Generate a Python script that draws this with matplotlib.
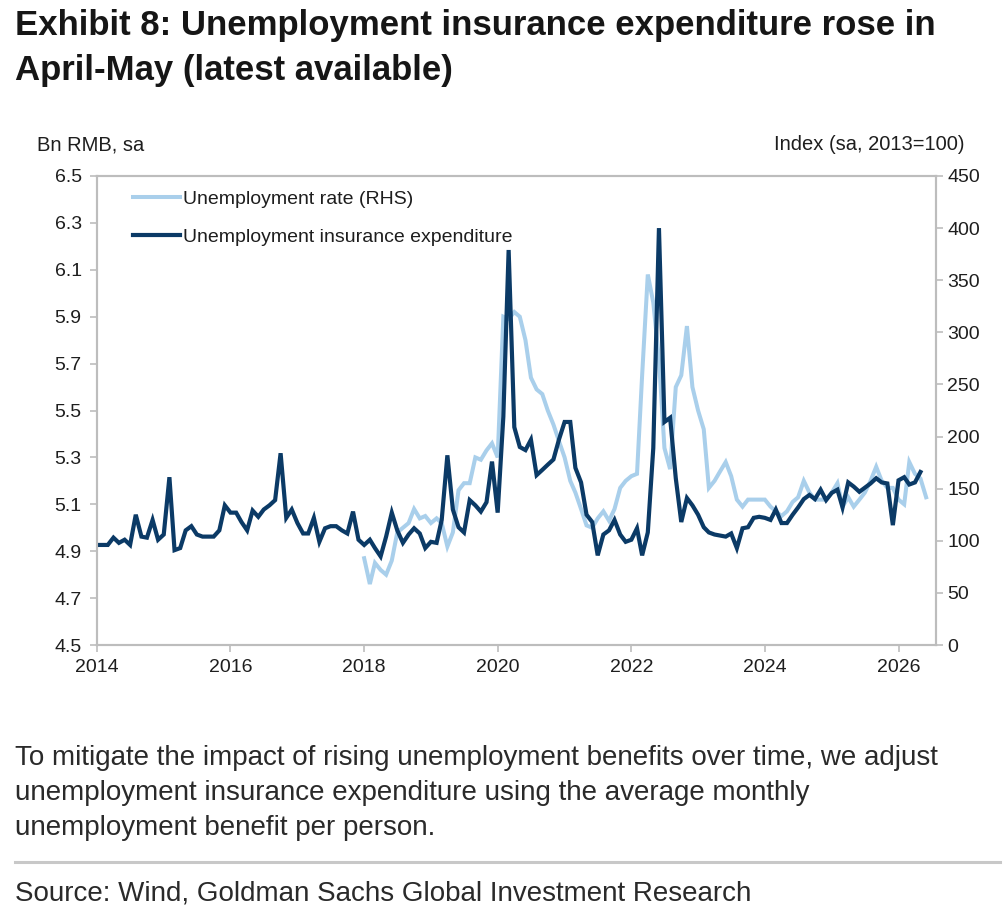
import pandas as pd
import matplotlib
matplotlib.use("Agg")
import matplotlib.pyplot as plt
import matplotlib.dates as mdates
from matplotlib.lines import Line2D

plt.rcParams['font.family'] = ['Liberation Sans', 'DejaVu Sans']

# unemployment insurance expenditure index, monthly from Jan 2014 (RHS scale)
expenditure = [96, 96, 96, 103, 98, 101, 96, 125, 104, 103, 120, 101,
               106, 161, 91, 93, 110, 114, 106, 104, 104, 104, 110, 134,
               127, 127, 118, 110, 129, 123, 130, 134, 139, 184, 122, 130,
               117, 107, 107, 122, 99, 112, 114, 114, 110, 107, 128, 101,
               96, 101, 93, 85, 104, 127, 110, 98, 106, 112, 107, 93,
               99, 98, 120, 182, 130, 113, 108, 139, 134, 128, 137, 176,
               127, 219, 379, 209, 190, 187, 197, 163, 168, 173, 178, 197,
               214, 214, 170, 156, 125, 118, 86, 106, 110, 120, 106, 99,
               101, 112, 86, 108, 189, 400, 214, 218, 160, 118, 141, 134,
               125, 113, 108, 106, 105, 104, 107, 93, 112, 113, 122, 123,
               122, 120, 130, 117, 117, 125, 132, 140, 144, 140, 149, 139,
               146, 149, 132, 156, 152, 147, 151, 155, 160, 156, 155, 115,
               158, 161, 154, 156, 166]

# unemployment rate, monthly from Jan 2018 (left scale)
unemp_rate = [4.87, 4.76, 4.85, 4.82, 4.80, 4.86, 4.98, 5.00, 5.02, 5.08, 5.04, 5.05,
              5.02, 5.04, 5.02, 4.92, 4.98, 5.16, 5.19, 5.19, 5.30, 5.29, 5.33, 5.36,
              5.30, 5.90, 5.89, 5.92, 5.90, 5.80, 5.64, 5.59, 5.57, 5.50, 5.44, 5.37,
              5.30, 5.20, 5.15, 5.08, 5.01, 5.00, 5.04, 5.07, 5.03, 5.08, 5.17, 5.20,
              5.22, 5.23, 5.65, 6.08, 5.96, 5.72, 5.34, 5.25, 5.60, 5.65, 5.86, 5.60,
              5.50, 5.42, 5.17, 5.20, 5.24, 5.28, 5.22, 5.12, 5.09, 5.12, 5.12, 5.12,
              5.12, 5.09, 5.07, 5.05, 5.07, 5.11, 5.13, 5.20, 5.15, 5.12, 5.12, 5.12,
              5.15, 5.19, 5.09, 5.13, 5.09, 5.12, 5.15, 5.20, 5.26, 5.20, 5.17, 5.17,
              5.12, 5.10, 5.28, 5.23, 5.21, 5.13]

exp_dates = pd.date_range('2014-01-01', periods=len(expenditure), freq='MS')
rate_dates = pd.date_range('2018-01-01', periods=len(unemp_rate), freq='MS')

left_ticks = [4.5, 4.7, 4.9, 5.1, 5.3, 5.5, 5.7, 5.9, 6.1, 6.3, 6.5]
right_ticks = list(range(0, 451, 50))

navy = '#0b3a66'
light = '#a9cfeb'
grey = '#bdbdbd'
txt = '#1e1e1e'

fig = plt.figure(figsize=(10.08, 9.24), dpi=100)
ax = fig.add_axes([97/1008, 1-645/924, (936-97)/1008, (645-176)/924])
ax2 = ax.twinx()

l1, = ax.plot(rate_dates, unemp_rate, color=light, lw=2.9, solid_joinstyle='miter')
l2, = ax2.plot(exp_dates, expenditure, color=navy, lw=3.0, solid_joinstyle='miter')

ax.set_ylim(4.5, 6.5)
ax.set_yticks(left_ticks)
ax.set_yticklabels([f'{v:.1f}' for v in left_ticks])
ax2.set_ylim(0, 450)
ax2.set_yticks(right_ticks)

ax.set_xlim(pd.Timestamp('2014-01-01'), pd.Timestamp('2026-07-25'))
ax.xaxis.set_major_locator(mdates.YearLocator(2))
ax.xaxis.set_major_formatter(mdates.DateFormatter('%Y'))

for a in (ax, ax2):
    for s in a.spines.values():
        s.set_color(grey)
        s.set_linewidth(1.5)
ax.tick_params(axis='y', direction='out', length=5, width=1.2, color=grey,
               labelsize=14, pad=6, labelcolor=txt)
ax.tick_params(axis='x', direction='out', length=5, width=1.2, color=grey,
               labelsize=14, pad=5, labelcolor=txt)
ax2.tick_params(axis='y', direction='out', length=5, width=1.2, color=grey,
                labelsize=14, pad=3, labelcolor=txt)

ax2.legend([l1, l2], ['Unemployment rate (RHS)', 'Unemployment insurance expenditure'],
           loc='upper left', bbox_to_anchor=(0.024, 1.003), frameon=False,
           fontsize=14, handlelength=2.45, handletextpad=0.12, labelspacing=1.05,
           borderpad=0.3, labelcolor=txt)

fig.text(37/1008, 1-145/924, 'Bn RMB, sa', fontsize=14.5, va='center', ha='left', color=txt)
fig.text(965/1008, 1-145/924, 'Index (sa, 2013=100)', fontsize=14.5, va='center',
         ha='right', color=txt)

fig.text(15/1008, 1-35/924, 'Exhibit 8: Unemployment insurance expenditure rose in',
         fontsize=25, fontweight='bold', va='baseline', color='#161616')
fig.text(15/1008, 1-80/924, 'April-May (latest available)',
         fontsize=25, fontweight='bold', va='baseline', color='#161616')

body = ['To mitigate the impact of rising unemployment benefits over time, we adjust',
        'unemployment insurance expenditure using the average monthly',
        'unemployment benefit per person.']
for k, line in enumerate(body):
    fig.text(15/1008, 1-(765+35*k)/924, line, fontsize=20, va='baseline', color='#2a2a2a')

fig.add_artist(Line2D([15/1008, 1000/1008], [1-862/924, 1-862/924],
                      transform=fig.transFigure, color='#c8c8c8', lw=2.2))
fig.text(15/1008, 1-901/924, 'Source: Wind, Goldman Sachs Global Investment Research',
         fontsize=20, va='baseline', color='#2a2a2a')

fig.savefig('out.png', dpi=100, facecolor='white')
